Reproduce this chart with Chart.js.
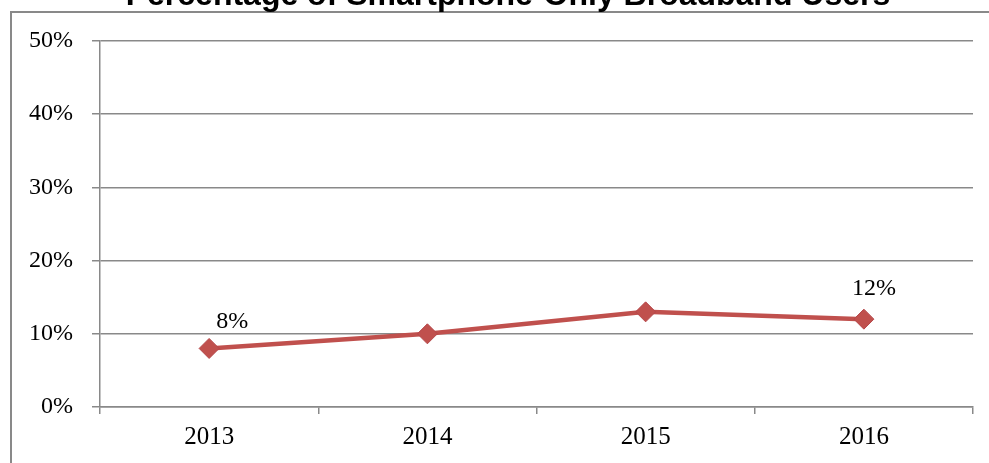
<!DOCTYPE html>
<html>
<head>
<meta charset="utf-8">
<script src="https://cdn.jsdelivr.net/npm/chart.js@4"></script>
<style>
  html, body { margin: 0; padding: 0; background: #fff; overflow: hidden; }
  #wrap { position: absolute; left: 0; top: 0; width: 989px; height: 463px; }
</style>
</head>
<body>
<div id="wrap"><canvas id="chart"></canvas></div>
<script>
const title = 'Percentage of Smartphone-Only Broadband Users';
const years = ['2013', '2014', '2015', '2016'];
const shares = [8, 10, 13, 12];
const yTicks = [0, 10, 20, 30, 40, 50];
const labelled = [0, 3]; // points that carry a value label

const GRID = '#898989';
const RED = '#C0504D';
const SERIF = '"Liberation Serif", "Times New Roman", serif';

// outer chart border and the title, which the picture cuts off at the top
const frameAndTitle = {
    id: 'frameAndTitle',
    beforeDraw(chart) {
        const ctx = chart.ctx;
        ctx.save();
        ctx.strokeStyle = GRID;
        ctx.lineWidth = 2;
        ctx.beginPath();
        ctx.moveTo(11, chart.height + 10);
        ctx.lineTo(11, 12);
        ctx.lineTo(chart.width + 10, 12);
        ctx.stroke();

        ctx.font = 'bold 32px "Liberation Sans", Arial, sans-serif';
        ctx.fillStyle = '#000';
        ctx.textAlign = 'center';
        ctx.textBaseline = 'alphabetic';
        ctx.fillText(title, 508, 4.5);
        ctx.restore();
    }
};

// value labels above selected points (offset the way the original sits)
const labelOffsets = { 0: { dx: 23, dy: -20 }, 3: { dx: 10, dy: -24 } };
const pointLabels = {
    id: 'pointLabels',
    afterDatasetsDraw(chart) {
        const ctx = chart.ctx;
        const meta = chart.getDatasetMeta(0);
        ctx.save();
        ctx.font = '24px ' + SERIF;
        ctx.fillStyle = '#000';
        ctx.textAlign = 'center';
        ctx.textBaseline = 'alphabetic';
        labelled.forEach(i => {
            const p = meta.data[i];
            const o = labelOffsets[i] || { dx: 0, dy: -20 };
            ctx.fillText(shares[i] + '%', p.x + o.dx, p.y + o.dy);
        });
        ctx.restore();
    }
};

new Chart(document.getElementById('chart'), {
    type: 'line',
    data: {
        labels: years,
        datasets: [{
            data: shares,
            borderColor: RED,
            borderWidth: 4.5,
            tension: 0,
            pointStyle: 'rectRot',
            pointRadius: 10,
            pointHoverRadius: 10,
            pointBackgroundColor: RED,
            pointBorderColor: '#B5474A',
            pointBorderWidth: 1
        }]
    },
    options: {
        responsive: true,
        maintainAspectRatio: false,
        animation: false,
        layout: { padding: { left: 0, right: 16, top: 41, bottom: 0 } },
        plugins: {
            legend: { display: false },
            tooltip: { enabled: false },
            title: { display: false }
        },
        scales: {
            x: {
                offset: true,
                grid: { offset: true, drawOnChartArea: false, drawTicks: true, tickLength: 7, color: GRID, lineWidth: 1.5 },
                border: { display: true, color: GRID, width: 1.5 },
                ticks: { color: '#000', padding: 8, font: { family: SERIF, size: 25 } },
                afterFit: s => { s.height = 56; }
            },
            y: {
                min: 0,
                max: 50,
                afterBuildTicks: s => { s.ticks = yTicks.map(v => ({ value: v })); },
                grid: { color: GRID, lineWidth: 1.5, drawTicks: true, tickLength: 8 },
                border: { display: true, color: GRID, width: 1.5 },
                ticks: {
                    color: '#000', padding: 19,
                    font: { family: SERIF, size: 24 },
                    callback: v => v + '%'
                },
                afterFit: s => { s.width = 100; }
            }
        }
    },
    plugins: [frameAndTitle, pointLabels]
});
</script>
</body>
</html>
